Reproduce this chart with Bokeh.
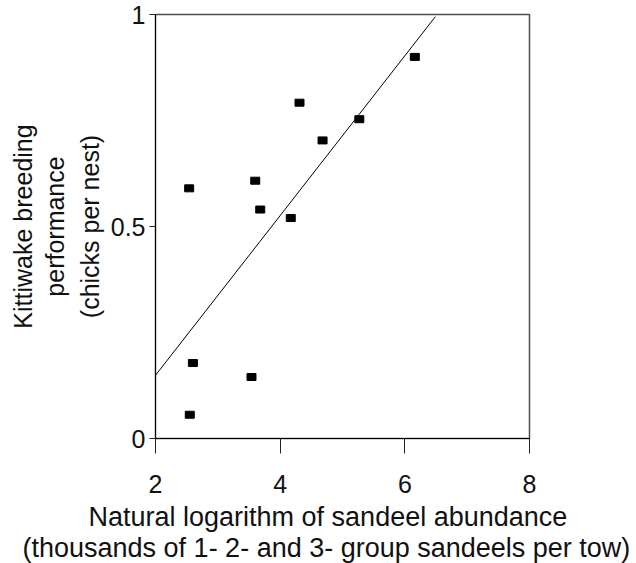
from bokeh.plotting import figure
from bokeh.models import Range1d, FixedTicker, Title
from bokeh.embed import file_html
from bokeh.resources import INLINE

# Data
ln_sandeel = [6.16, 5.27, 4.68, 4.31, 3.60, 2.54, 3.68, 4.17, 2.60, 3.54, 2.55]
breeding = [0.900, 0.753, 0.703, 0.792, 0.608, 0.590, 0.540, 0.520, 0.178, 0.145, 0.056]

fit_intercept_at_2 = 0.149
fit_slope = 0.1884
fit_x = [2.0, 6.49]
fit_y = [fit_intercept_at_2 + fit_slope * (x - 2.0) for x in fit_x]

x_ticks = [2, 4, 6, 8]
y_ticks = [0, 0.5, 1]
y_tick_labels = {0: "0", 0.5: "0.5", 1: "1"}

FONT = "Liberation Sans"

p = figure(width=636, height=563, output_backend="svg", toolbar_location=None,
           x_range=Range1d(2, 8), y_range=Range1d(0, 1),
           min_border_left=155, min_border_right=107, min_border_top=14, min_border_bottom=125)

p.background_fill_color = "white"
p.border_fill_color = "white"
p.outline_line_color = "#4d4d4d"
p.outline_line_width = 1.5
p.xgrid.visible = False
p.ygrid.visible = False

# regression line
p.line(fit_x, fit_y, line_color="black", line_width=1)
# points
p.rect(ln_sandeel, breeding, width=9, height=7, width_units="screen", height_units="screen",
       fill_color="black", line_color="black")

xa = p.xaxis[0]
xa.ticker = FixedTicker(ticks=x_ticks)
xa.minor_tick_line_color = None
xa.major_tick_in = 0
xa.major_tick_out = 15
xa.major_label_standoff = 21
xa.major_label_text_font = FONT
xa.major_label_text_font_size = "25px"
xa.major_label_text_color = "#111111"
xa.axis_line_color = "black"
xa.major_tick_line_color = "#222222"

ya = p.yaxis[0]
ya.ticker = FixedTicker(ticks=y_ticks)
ya.major_label_overrides = y_tick_labels
ya.minor_tick_line_color = None
ya.major_tick_in = 0
ya.major_tick_out = 6
ya.major_label_standoff = 4
ya.major_label_text_font = FONT
ya.major_label_text_font_size = "25px"
ya.major_label_text_color = "#111111"
ya.axis_line_color = "black"
ya.major_tick_line_color = "#222222"

# y axis label lines (closest first)
for txt, so in [("(chicks per nest)", 8), ("performance", 2), ("Kittiwake breeding", 2)]:
    p.add_layout(Title(text=txt, align="center", text_font=FONT, text_font_size="25px",
                       text_font_style="normal", text_color="#111111", standoff=so), "left")

# x axis label lines (closest first)
for txt, so, off in [("Natural logarithm of sandeel abundance", 8, -67),
                     ("(thousands of 1- 2- and 3- group sandeels per tow)", -9, -133)]:
    p.add_layout(Title(text=txt, align="left", offset=off, text_font=FONT, text_font_size="27px",
                       text_font_style="normal", text_color="#111111", standoff=so), "below")

open("out.html", "w").write(file_html(p, INLINE))
